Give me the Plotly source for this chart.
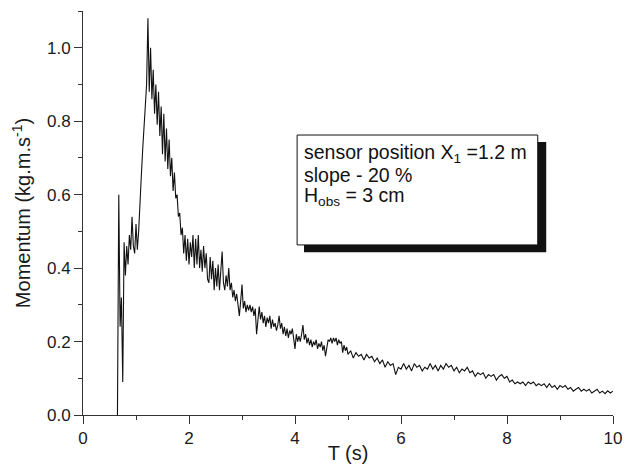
import plotly.graph_objects as go

# ---- data ----
early_start = 0.65   # s
early_step = 0.025   # s
momentum_early = [
    0.00, 0.60, 0.24, 0.32, 0.09, 0.47, 0.38, 0.46, 0.41, 0.49,
    0.45, 0.54, 0.46, 0.44, 0.52, 0.45, 0.50, 0.59, 0.65, 0.72,
    0.78, 0.84, 0.90, 1.08, 0.88, 1.00, 0.86, 0.94, 0.82, 0.90,
    0.79, 0.88, 0.76, 0.84, 0.71, 0.82, 0.69, 0.78, 0.67, 0.75,
    0.65, 0.70, 0.61, 0.66, 0.59, 0.60, 0.54, 0.55, 0.49, 0.51,
    0.44, 0.49, 0.42, 0.48, 0.41, 0.47, 0.43, 0.49, 0.40, 0.48,
    0.41, 0.49, 0.40, 0.45, 0.39, 0.46, 0.40, 0.44, 0.37, 0.36,
    0.43, 0.37, 0.42, 0.34, 0.40, 0.35, 0.41, 0.34, 0.40, 0.445,
    0.36, 0.34, 0.38, 0.35, 0.40, 0.34, 0.36, 0.32, 0.34, 0.31,
    0.33, 0.29, 0.27, 0.31, 0.355, 0.29, 0.31, 0.28, 0.30, 0.285,
    0.30, 0.28, 0.295, 0.27, 0.29, 0.22, 0.27, 0.295, 0.26, 0.28,
    0.25, 0.27, 0.24, 0.265, 0.25, 0.27, 0.235, 0.26, 0.24, 0.25,
    0.23, 0.245, 0.27, 0.235, 0.25, 0.22, 0.24, 0.215, 0.235, 0.21,
    0.23, 0.22, 0.235, 0.21, 0.18, 0.22, 0.20, 0.215, 0.20, 0.22,
    0.245, 0.205, 0.22, 0.195, 0.21, 0.19, 0.205, 0.185, 0.20, 0.19,
    0.205, 0.18, 0.195, 0.185, 0.20, 0.175, 0.19, 0.16, 0.185, 0.205,
    0.20, 0.21, 0.195, 0.21, 0.20, 0.21, 0.19, 0.205, 0.195, 0.20,
    0.17, 0.19, 0.175, 0.185, 0.165,
]

late_start = 5.05    # s
late_step = 0.05     # s
momentum_late = [
    0.175, 0.155, 0.17, 0.16, 0.165, 0.15, 0.165, 0.155, 0.16, 0.145,
    0.155, 0.14, 0.15, 0.13, 0.145, 0.135, 0.14, 0.11, 0.13, 0.125,
    0.14, 0.125, 0.135, 0.12, 0.14, 0.13, 0.135, 0.12, 0.13, 0.125,
    0.14, 0.125, 0.135, 0.12, 0.135, 0.125, 0.14, 0.13, 0.135, 0.12,
    0.13, 0.115, 0.125, 0.12, 0.13, 0.115, 0.12, 0.105, 0.115, 0.11,
    0.115, 0.10, 0.11, 0.105, 0.11, 0.095, 0.105, 0.11, 0.10, 0.105,
    0.09, 0.095, 0.085, 0.09, 0.085, 0.09, 0.08, 0.09, 0.085, 0.09,
    0.08, 0.085, 0.08, 0.085, 0.075, 0.085, 0.075, 0.08, 0.07, 0.08,
    0.075, 0.08, 0.07, 0.075, 0.065, 0.07, 0.075, 0.065, 0.07, 0.065,
    0.07, 0.06, 0.065, 0.07, 0.06, 0.065, 0.058, 0.066, 0.06, 0.065,
]

x_ticks = [0, 2, 4, 6, 8, 10]
y_ticks = [0.0, 0.2, 0.4, 0.6, 0.8, 1.0]
info_lines = ["sensor position X<sub>1</sub> =1.2 m",
              "slope - 20 %",
              "H<sub>obs</sub> = 3 cm"]

# ---- build series ----
time = [round(early_start + i * early_step, 4) for i in range(len(momentum_early))]
time += [round(late_start + j * late_step, 4) for j in range(len(momentum_late))]
momentum = momentum_early + momentum_late

FONT = "Liberation Sans, Arial, sans-serif"
INK = "#1a1a1a"

fig = go.Figure()
fig.add_trace(go.Scatter(x=time, y=momentum, mode="lines",
                         line=dict(color="#111111", width=1.1),
                         showlegend=False, hoverinfo="skip"))

axis_common = dict(
    showline=True, linecolor="#333333", linewidth=1,
    ticks="outside", ticklen=8, tickwidth=1, tickcolor="#333333",
    showgrid=False, zeroline=False,
    tickfont=dict(family=FONT, size=17, color=INK),
)

fig.update_xaxes(range=[0, 10], tickvals=x_ticks, ticktext=[str(v) for v in x_ticks],
                 minor=dict(ticks="outside", ticklen=4, dtick=1, tick0=0,
                            tickcolor="#333333", showgrid=False),
                 title=dict(text="T (s)", font=dict(family=FONT, size=20, color=INK),
                            standoff=13),
                 **axis_common)
fig.update_yaxes(range=[0, 1.1], tickvals=y_ticks, ticktext=[f"{v:.1f}" for v in y_ticks],
                 minor=dict(ticks="outside", ticklen=4, dtick=0.1, tick0=0,
                            tickcolor="#333333", showgrid=False),
                 title=dict(text="Momentum (kg.m.s<sup>-1</sup>)",
                            font=dict(family=FONT, size=20, color=INK), standoff=10),
                 **axis_common)

# text box with drop shadow
fig.add_shape(type="rect", xref="paper", yref="paper",
              x0=0.417, x1=0.874, y0=0.403, y1=0.676,
              fillcolor="#111111", line=dict(width=0), layer="above")
fig.add_shape(type="rect", xref="paper", yref="paper",
              x0=0.404, x1=0.858, y0=0.421, y1=0.693,
              fillcolor="white", line=dict(color="#111111", width=1), layer="above")
for line_text, ypos in zip(info_lines, [0.648, 0.595, 0.542]):
    fig.add_annotation(xref="paper", yref="paper", x=0.413, y=ypos,
                       xanchor="left", yanchor="middle", align="left",
                       text=line_text, showarrow=False,
                       font=dict(family=FONT, size=19.5, color="#111111"))

# page body has an 8 px margin: figure is sized so the plot area lands where the reference has it
fig.update_layout(
    width=627, height=456,
    margin=dict(l=75, r=22, t=3, b=49, autoexpand=False),
    paper_bgcolor="white", plot_bgcolor="white",
    font=dict(family=FONT),
)

fig.write_html("out.html")
